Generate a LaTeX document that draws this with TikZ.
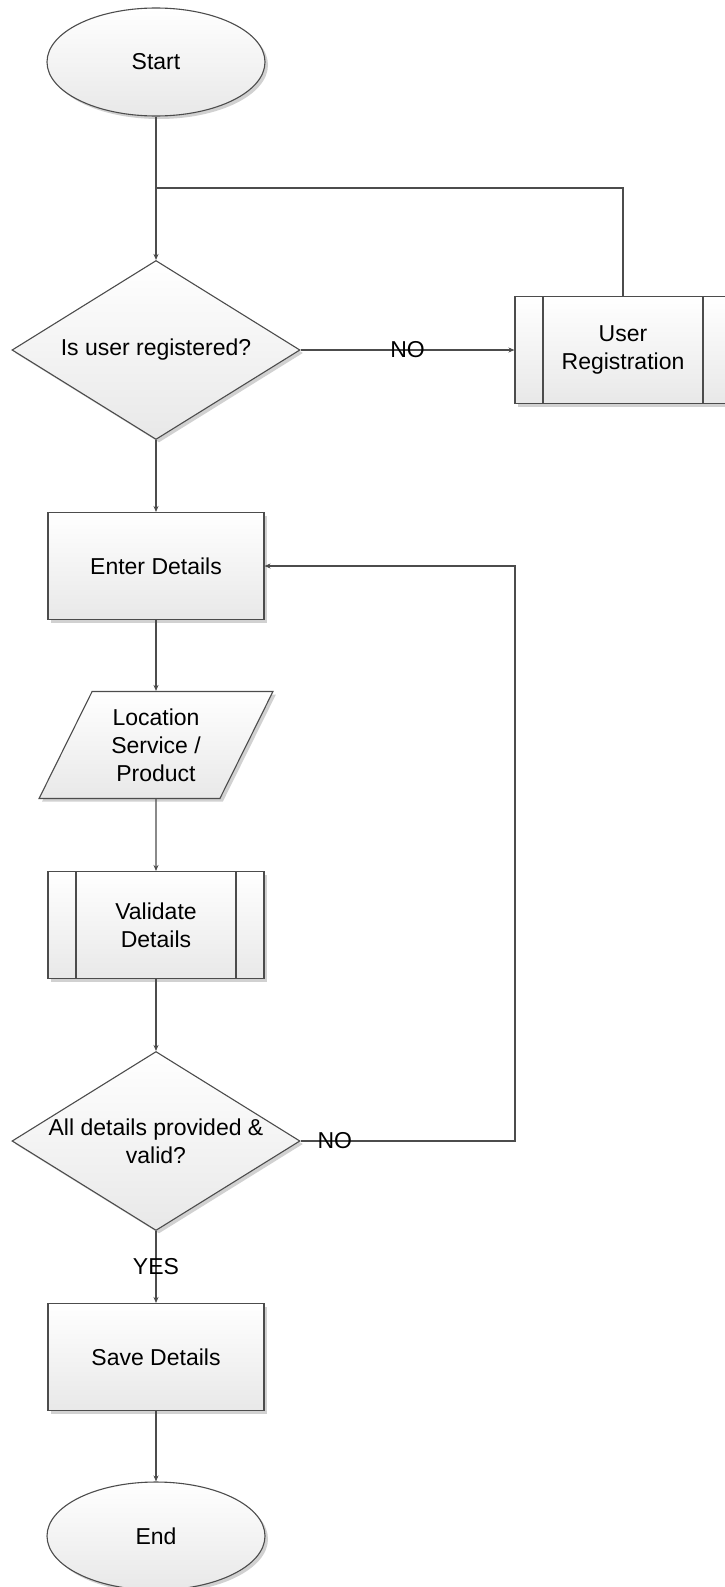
\documentclass[tikz,border=0pt]{standalone}
\usepackage{fontspec}
\setmainfont{Liberation Sans}
\usetikzlibrary{arrows.meta,shapes.geometric,shadows}

\begin{document}
\begin{tikzpicture}[x=1pt,y=-1pt]
\tikzset{
  flownode/.style={draw=black!70,line width=1.1pt,top color=white,bottom color=black!9,
    drop shadow={shadow xshift=3pt,shadow yshift=-3pt,fill=black!18,opacity=1},
    font=\fontsize{23}{28}\selectfont,align=center,inner sep=0pt},
  terminal/.style={flownode,ellipse,minimum width=218pt,minimum height=108pt},
  decision/.style={flownode,diamond,minimum width=288pt,minimum height=179pt},
  process/.style={flownode,rectangle,minimum width=216pt,minimum height=107pt},
  subprocess/.style={process,path picture={
    \draw[flowline] ([xshift=28pt]path picture bounding box.north west) -- ([xshift=28pt]path picture bounding box.south west)
      ([xshift=-28pt]path picture bounding box.north east) -- ([xshift=-28pt]path picture bounding box.south east);}},
  inout/.style={flownode,trapezium,trapezium left angle=63,trapezium right angle=117,
    trapezium stretches=true,minimum width=234pt,minimum height=107pt},
  flowline/.style={draw=black!70,line width=1.1pt},
  flowarrow/.style={flowline,-{Stealth[length=6pt,width=5pt]}},
  flowlabel/.style={font=\fontsize{23}{28}\selectfont,inner sep=0pt,align=center}
}
\useasboundingbox (0,0) rectangle (724,1587);
\node[terminal] (start) at (156,62) {Start};
\node[decision,label={[flowlabel]center:Is user registered?}] (isreg) at (156,350) {};
\node[subprocess] (register) at (623,350) {User\\Registration};
\node[process] (enter) at (156,566) {Enter Details};
\node[inout] (location) at (156,745) {Location\\Service /\\Product};
\node[subprocess] (validate) at (156,925) {Validate\\Details};
\node[decision,label={[flowlabel]center:All details provided \&\\valid?}] (isvalid) at (156,1141) {};
\node[process] (save) at (156,1357) {Save Details};
\node[terminal] (end) at (156,1536) {End};
\coordinate (merge) at (156,188);
\coordinate (loopcorner) at (515,1141);
\draw[flowarrow] (start) -- (isreg);
\draw[flowarrow] (isreg) -- node[flowlabel]{NO} (register);
\draw[flowline] (register) |- (merge);
\draw[flowarrow] (isreg) -- (enter);
\draw[flowarrow] (enter) -- (location);
\draw[flowarrow] (location) -- (validate);
\draw[flowarrow] (validate) -- (isvalid);
\draw[flowarrow] (isvalid.east) -- node[flowlabel,pos=0.16]{NO} (loopcorner) |- (enter);
\draw[flowarrow] (isvalid) -- node[flowlabel]{YES} (save);
\draw[flowarrow] (save) -- (end);
\end{tikzpicture}
\end{document}
